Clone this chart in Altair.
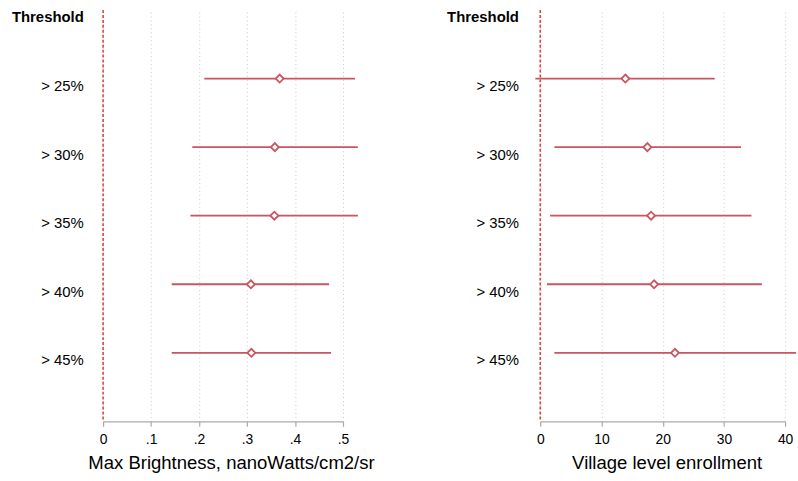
import json
import altair as alt
import pandas as pd

# ---- data ----
rows = [1, 2, 3, 4, 5]
row_labels = ["Threshold", "> 25%", "> 30%", "> 35%", "> 40%", "> 45%"]

bright_est = [0.368, 0.358, 0.357, 0.308, 0.309]
bright_lo = [0.211, 0.186, 0.182, 0.143, 0.143]
bright_hi = [0.525, 0.531, 0.531, 0.471, 0.475]
bright_ticks = [0, 0.1, 0.2, 0.3, 0.4, 0.5]

enrol_est = [13.9, 17.5, 18.1, 18.6, 22.0]
enrol_lo = [-0.8, 2.3, 1.6, 1.1, 2.3]
enrol_hi = [28.5, 32.8, 34.5, 36.2, 41.8]
enrol_ticks = [0, 10, 20, 30, 40]

CI_COLOR = "#c85560"
REF_COLOR = "#dd4444"
FONT = "Liberation Sans"


def panel(est, lo, hi, ticks, domain, title, label_expr, lab_pad, title_x, width):
    df = pd.DataFrame({"row": rows, "est": est, "lo": lo, "hi": hi})
    xs = alt.Scale(domain=domain, nice=False, zero=False)
    ys = alt.Scale(domain=[0, 6], reverse=True, nice=False)
    xaxis = alt.Axis(
        values=ticks, title=title, labelExpr=label_expr, grid=True,
        gridDash=[1, 3], gridColor="#c8c8c8", gridWidth=1,
        labelFlush=False, tickSize=5, tickColor="#aaaaaa", domainColor="#aaaaaa",
        tickWidth=1.2, domainWidth=1.2,
        labelFontSize=14, labelColor="black", labelPadding=6,
        titleFontSize=18.7, titleFontWeight="normal", titleColor="black",
        titlePadding=8, titleX=title_x,
    )
    yaxis = alt.Axis(
        values=[0, 1, 2, 3, 4, 5], labelExpr=json.dumps(row_labels) + "[datum.value]",
        grid=False, domain=False, ticks=False, labelPadding=lab_pad, labelOffset=7,
        labelFontSize=15, labelColor="black", title=None,
        labelFontWeight={"condition": {"test": "datum.value == 0", "value": "bold"}, "value": "normal"},
    )
    base = alt.Chart(df)
    ci = base.mark_rule(color=CI_COLOR, strokeWidth=1.8).encode(
        x=alt.X("lo:Q", scale=xs, axis=xaxis),
        x2="hi:Q",
        y=alt.Y("row:Q", scale=ys, axis=yaxis),
    )
    ref = alt.Chart(pd.DataFrame({"z": [0]})).mark_rule(
        color=REF_COLOR, strokeDash=[3, 2], strokeWidth=1.6
    ).encode(x=alt.X("z:Q", scale=xs, axis=xaxis))
    pts = base.mark_point(shape="diamond", filled=True, fill="white", size=65, strokeWidth=1.8,
                          stroke=CI_COLOR, opacity=1).encode(
        x=alt.X("est:Q", scale=xs, axis=xaxis),
        y=alt.Y("row:Q", scale=ys, axis=yaxis),
    )
    return alt.layer(ref, ci, pts).properties(width=width, height=415)


left = panel(bright_est, bright_lo, bright_hi, bright_ticks, [0, 0.5],
             "Max Brightness, nanoWatts/cm2/sr",
             "datum.value == 0 ? '0' : replace(format(datum.value, '.1f'), '0.', '.')",
             20, 129, 242)
right = panel(enrol_est, enrol_lo, enrol_hi, enrol_ticks, [0, 40],
              "Village level enrollment", "format(datum.value, 'd')",
              22, 127.5, 247)

chart = alt.hconcat(left, right, spacing=72).properties(
    padding={"left": 11, "top": 7, "right": 0, "bottom": 0},
    background="white",
).configure(font=FONT).configure_view(stroke=None)

chart.save("out.html", embed_options={"renderer": "svg", "actions": False})
